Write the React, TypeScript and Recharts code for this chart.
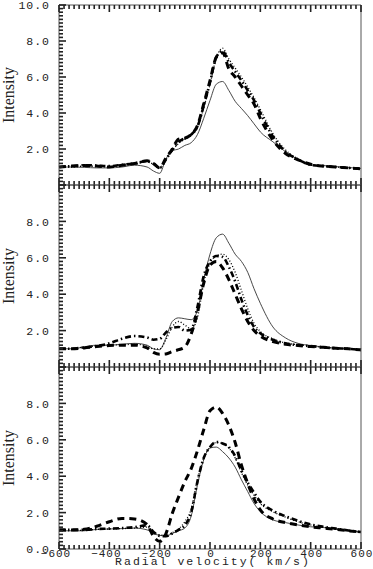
import React from "react";
import { Line, LineChart, XAxis, YAxis } from "recharts";

// radial velocity grid (km/s)
const velocity = [-600, -550, -500, -450, -400, -350, -300, -250, -225, -200, -175, -150, -125, -100, -75, -50, -25, 0, 25, 50, 75, 100, 125, 150, 175, 200, 250, 300, 350, 400, 450, 500, 550, 600];

// top panel
const topSolid = [1.0, 1.0, 0.98, 0.95, 0.95, 1.0, 1.1, 1.0, 0.78, 0.65, 1.45, 1.9, 2.0, 2.2, 2.35, 2.8, 3.7, 4.7, 5.6, 5.75, 5.25, 4.65, 4.25, 3.85, 3.4, 2.95, 2.4, 1.85, 1.42, 1.1, 1.08, 1.02, 0.97, 0.92];
const topDotted = [1.0, 1.0, 1.05, 1.05, 1.0, 1.1, 1.15, 1.3, 1.15, 0.95, 1.4, 1.9, 2.3, 2.55, 2.75, 3.2, 4.3, 5.6, 7.05, 7.6, 7.0, 6.5, 6.0, 5.45, 4.85, 4.2, 2.85, 1.95, 1.45, 1.15, 1.05, 1.0, 0.95, 0.9];
const topDashDot = [1.0, 1.05, 1.1, 1.08, 1.05, 1.12, 1.2, 1.32, 1.18, 0.95, 1.42, 1.95, 2.4, 2.6, 2.8, 3.25, 4.4, 5.7, 7.1, 7.45, 6.8, 6.3, 5.8, 5.25, 4.7, 4.0, 2.7, 1.85, 1.42, 1.12, 1.05, 1.0, 0.95, 0.9];
const topDashed = [1.0, 1.05, 1.08, 1.05, 1.0, 1.1, 1.2, 1.35, 1.2, 0.95, 1.5, 2.0, 2.55, 2.6, 2.8, 3.3, 4.5, 5.8, 7.1, 7.35, 6.45, 6.0, 5.5, 5.0, 4.5, 3.7, 2.5, 1.75, 1.4, 1.15, 1.05, 1.0, 0.95, 0.9];

// middle panel
const midSolid = [1.0, 1.0, 1.1, 1.2, 1.2, 1.25, 1.3, 1.2, 1.0, 0.95, 1.6, 2.5, 2.7, 2.65, 2.6, 3.1, 4.8, 6.2, 7.1, 7.3, 6.8, 6.2, 5.8, 5.2, 4.3, 3.5, 2.2, 1.6, 1.3, 1.18, 1.1, 1.03, 1.0, 0.94];
const midDotted = [1.0, 1.0, 1.1, 1.15, 1.2, 1.22, 1.25, 1.15, 1.0, 1.0, 1.5, 2.2, 2.5, 2.3, 2.1, 2.7, 4.6, 5.7, 6.1, 6.2, 5.9, 5.2, 4.2, 3.2, 2.4, 1.95, 1.55, 1.32, 1.22, 1.15, 1.08, 1.03, 1.0, 0.94];
const midDashDot = [1.0, 1.0, 1.08, 1.15, 1.3, 1.55, 1.7, 1.62, 1.5, 1.55, 1.9, 2.15, 2.2, 2.0, 2.05, 3.3, 5.0, 5.8, 6.1, 6.05, 5.5, 4.7, 3.7, 2.85, 2.2, 1.85, 1.5, 1.3, 1.2, 1.15, 1.08, 1.03, 1.0, 0.94];
const midDashed = [1.0, 1.0, 1.05, 1.12, 1.18, 1.2, 1.2, 1.05, 0.8, 0.7, 0.72, 0.85, 0.95, 1.1, 1.8, 3.0, 4.6, 5.6, 5.8, 5.45, 4.8, 4.0, 3.2, 2.5, 2.0, 1.7, 1.4, 1.25, 1.18, 1.12, 1.08, 1.03, 1.0, 0.94];

// bottom panel
const botSolid = [1.0, 1.0, 1.0, 1.08, 1.1, 1.12, 1.15, 1.05, 0.85, 0.75, 0.72, 0.85, 1.0, 1.15, 1.8, 3.5, 4.9, 5.55, 5.6, 5.35, 5.0, 4.5, 3.8, 3.15, 2.5, 2.05, 1.6, 1.45, 1.32, 1.22, 1.18, 1.1, 1.02, 0.93];
const botDotted = [1.0, 1.02, 1.03, 1.08, 1.1, 1.12, 1.15, 1.2, 0.9, 0.78, 0.75, 0.9, 1.1, 1.5, 2.2, 3.8, 5.0, 5.6, 5.85, 5.8, 5.55, 5.0, 4.2, 3.5, 2.95, 2.5, 2.05, 1.75, 1.5, 1.32, 1.2, 1.1, 1.02, 0.93];
const botDashDot = [1.05, 1.05, 1.05, 1.1, 1.12, 1.15, 1.2, 1.3, 0.95, 0.72, 0.7, 0.85, 1.05, 1.3, 2.0, 3.7, 5.0, 5.6, 5.88, 5.8, 5.6, 5.1, 4.3, 3.65, 3.1, 2.6, 2.1, 1.8, 1.55, 1.35, 1.22, 1.12, 1.02, 0.93];
const botDashed = [1.05, 1.05, 1.08, 1.25, 1.5, 1.68, 1.65, 1.35, 0.7, 0.42, 0.85, 1.95, 2.85, 3.7, 4.4, 5.4, 6.55, 7.6, 7.8, 7.45, 6.8, 5.85, 4.6, 3.6, 2.75, 2.15, 1.65, 1.45, 1.32, 1.22, 1.15, 1.08, 1.0, 0.93];

const xLabels = [-600, -400, -200, 0, 200, 400, 600];
const topYLabels = [2, 4, 6, 8, 10];
const midYLabels = [2, 4, 6, 8];
const botYLabels = [0, 2, 4, 6, 8];

const xTicks = Array.from({ length: 61 }, (_, i) => -600 + i * 20);
const yTicks = Array.from({ length: 51 }, (_, i) => Math.round(i * 2) / 10);

const AXIS = "#555";
const MONO = "Liberation Mono, monospace";

const build = (s: number[], d: number[], dd: number[], da: number[]) =>
    velocity.map((v, i) => ({ v, solid: s[i], dotted: d[i], dashdot: dd[i], dashed: da[i] }));

const isMajorY = (v: number) => Math.abs(v / 2 - Math.round(v / 2)) < 1e-6;
const isMajorX = (v: number) => Math.abs(v / 200 - Math.round(v / 200)) < 1e-6;

const leftTick = (labels: number[]) => (props: any) => {
    const { x, y, payload } = props;
    const v = Math.round(payload.value * 10) / 10;
    const len = isMajorY(v) ? 7 : 4;
    return (
        <g>
            <path d={`M${x},${y}h${len}`} stroke="#222" strokeWidth={1.6} fill="none" />
            {labels.includes(v) && (
                <text x={x - 9} y={y} dy="0.36em" textAnchor="end" fontFamily={MONO} fontSize={11.5}
                      letterSpacing={1} fill="#222">{v.toFixed(1)}</text>
            )}
        </g>
    );
};

const rightTick = (props: any) => {
    const { x, y, payload } = props;
    const len = isMajorY(Math.round(payload.value * 10) / 10) ? 7 : 4;
    return <path d={`M${x},${y}h${-len}`} stroke="#222" strokeWidth={1.6} fill="none" />;
};

const topTick = (props: any) => {
    const { x, y, payload } = props;
    const len = isMajorX(payload.value) ? 7 : 4;
    return <path d={`M${x},${y}v${len}`} stroke="#222" strokeWidth={1.6} fill="none" />;
};

const bottomTick = (showLabels: boolean) => (props: any) => {
    const { x, y, payload } = props;
    const v = payload.value;
    const len = isMajorX(v) ? 7 : 4;
    return (
        <g>
            <path d={`M${x},${y}v${-len}`} stroke="#222" strokeWidth={1.6} fill="none" />
            {showLabels && xLabels.includes(v) && (
                <text x={x + (v < 0 ? -3 : 1)} y={y + 7.5} textAnchor="middle" fontFamily={MONO} fontSize={11}
                      letterSpacing={1} fill="#222">{v < 0 ? "\u2212" + Math.abs(v) : String(v)}</text>
            )}
        </g>
    );
};

interface PanelProps {
    rows: any[];
    yLabels: number[];
    showX: boolean;
    top: number;
    height: number;
    marginBottom: number;
}

const Panel = ({ rows, yLabels, showX, top, height, marginBottom }: PanelProps) => (
    <div style={{ position: "absolute", left: 0, top, width: 373, height }}>
        <LineChart width={373} height={height} data={rows}
                   margin={{ top: 4, right: 11, bottom: marginBottom, left: 58 }}>
            <XAxis type="number" dataKey="v" domain={[-600, 600]} ticks={xTicks} interval={0}
                   height={1} tickSize={0} tickMargin={0} tickLine={false}
                   axisLine={{ stroke: AXIS }} tick={bottomTick(showX)}
                   label={showX ? {
                       content: (p: any) => {
                           const vb = p.viewBox || { x: 59, y: 549, width: 302 };
                           return (
                               <text x={vb.x + vb.width / 2 + 3} y={vb.y + 16} textAnchor="middle"
                                     fontFamily={MONO} fontSize={11.5} letterSpacing={2} fill="#222">
                                   Radial velocity( km/s)
                               </text>
                           );
                       }
                   } : undefined}/>
            <XAxis xAxisId="top" orientation="top" type="number" dataKey="v" domain={[-600, 600]}
                   ticks={xTicks} interval={0} height={1} tickSize={0} tickMargin={0} tickLine={false}
                   axisLine={{ stroke: AXIS }} tick={topTick}/>
            <YAxis type="number" domain={[0, 10]} ticks={yTicks} interval={0} width={1}
                   tickSize={0} tickMargin={0} tickLine={false} axisLine={{ stroke: AXIS }}
                   tick={leftTick(yLabels)}
                   label={{
                       content: (p: any) => {
                           const vb = p.viewBox || { y: 0, height: 0 };
                           const cy = vb.y + vb.height / 2;
                           return (
                               <text x={14} y={cy} transform={`rotate(-90, 14, ${cy})`} textAnchor="middle"
                                     fontFamily="Liberation Serif, serif" fontSize={16} fill="#222">
                                   Intensity
                               </text>
                           );
                       }
                   }}/>
            <YAxis yAxisId="right" orientation="right" type="number" domain={[0, 10]} ticks={yTicks}
                   interval={0} width={1} tickSize={0} tickMargin={0} tickLine={false}
                   axisLine={{ stroke: AXIS }} tick={rightTick}/>
            <Line type="monotone" dataKey="solid" stroke="#333" strokeWidth={0.9} dot={false}
                  isAnimationActive={false}/>
            <Line type="monotone" dataKey="dotted" stroke="#000" strokeWidth={1.3} strokeDasharray="1 2"
                  dot={false} isAnimationActive={false}/>
            <Line type="monotone" dataKey="dashdot" stroke="#000" strokeWidth={2.6}
                  strokeDasharray="6 3 1.5 3" dot={false} isAnimationActive={false}/>
            <Line type="monotone" dataKey="dashed" stroke="#000" strokeWidth={3} strokeDasharray="7 5"
                  dot={false} isAnimationActive={false}/>
        </LineChart>
    </div>
);

const App = () => (
    <div style={{ position: "absolute", left: 0, top: 0, width: 373, height: 569, background: "#fff" }}>
        <Panel rows={build(topSolid, topDotted, topDashDot, topDashed)} yLabels={topYLabels}
               showX={false} top={0} height={190} marginBottom={4}/>
        <Panel rows={build(midSolid, midDotted, midDashDot, midDashed)} yLabels={midYLabels}
               showX={false} top={180} height={192} marginBottom={4}/>
        <Panel rows={build(botSolid, botDotted, botDashDot, botDashed)} yLabels={botYLabels}
               showX={true} top={362} height={207} marginBottom={19}/>
    </div>
);

export default App;
